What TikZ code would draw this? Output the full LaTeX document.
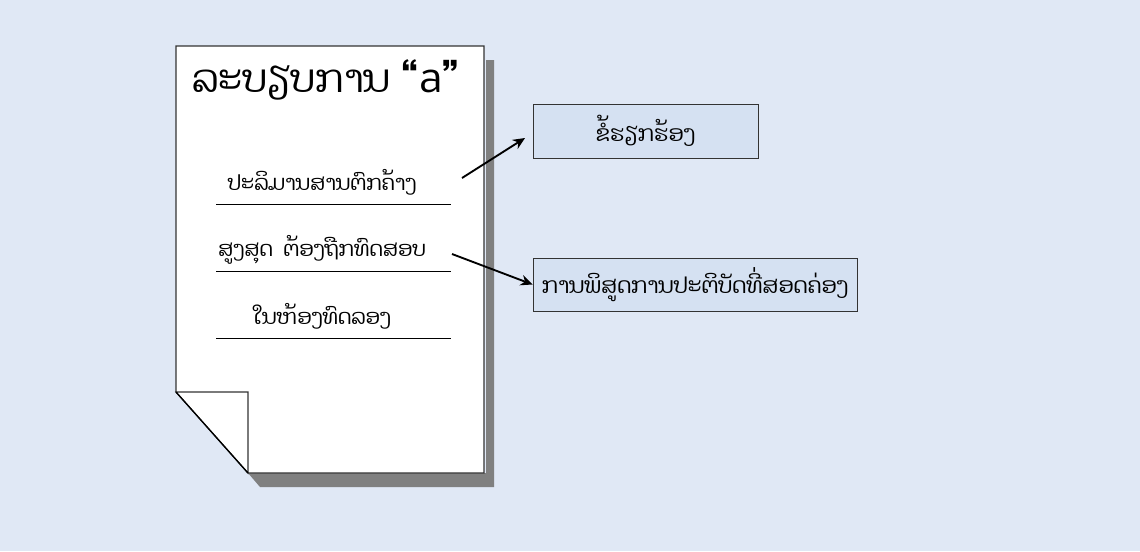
\documentclass[tikz,border=0pt]{standalone}
\usepackage{fontspec}
\newfontfamily\laofont[Script=Lao]{Dhyana}
\usetikzlibrary{arrows.meta}
\definecolor{bgc}{HTML}{E0E8F5}
\definecolor{boxc}{HTML}{D5E1F2}
\definecolor{shad}{HTML}{808080}
\definecolor{edge}{HTML}{333333}
\tikzset{
  labelbox/.style={draw=edge, fill=boxc, line width=0.6pt, inner sep=0pt, font=\laofont\fontsize{16.5}{19}\selectfont},
  pagetext/.style={font=\laofont\fontsize{15.7}{18}\selectfont, inner sep=0pt},
  rule/.style={draw=black, line width=0.5pt},
  arr/.style={-{Stealth[length=9pt,width=8pt]}, line width=1.4pt}
}
\begin{document}
\begin{tikzpicture}[x=0.75pt,y=-0.75pt]
\fill[bgc] (0,0) rectangle (1140,551);
\useasboundingbox (0,0) rectangle (1140,551);
% shadow
\fill[shad] (486,60) -- (494,60) -- (494,487) -- (260,487) -- (248,473) -- (486,473) -- cycle;
% page
\draw[edge, fill=white, line width=0.8pt] (176,46) -- (484,46) -- (484,473) -- (248,473) -- (176,392) -- cycle;
% fold
\draw[edge, fill=white, line width=0.8pt] (176,392) -- (248,392) -- (248,473) -- cycle;
\draw[black, line width=1pt] (176,392) -- (248,473);
% title
\node[anchor=west, inner sep=0pt, font=\laofont\fontsize{29}{33}\selectfont] (title) at (192,80) {ລະບຽບການ “a”};
% lines
\node[pagetext] (t1) at (322,182) {ປະລິມານສານຕົກຄ້າງ};
\node[pagetext] (t2) at (322,250) {ສູງສຸດ\ \ ຕ້ອງຖືກທົດສອບ};
\node[pagetext] (t3) at (322,316) {ໃນຫ້ອງທົດລອງ};
\draw[rule] (216,204) -- (451,204);
\draw[rule] (216,271) -- (451,271);
\draw[rule] (216,338) -- (451,338);
% boxes
\node[labelbox, minimum width=225*0.75pt, minimum height=54*0.75pt] (b1) at (645.5,131) {ຂໍ້ຮຽກຮ້ອງ};
\node[labelbox, minimum width=324*0.75pt, minimum height=53*0.75pt] (b2) at (695,284.5) {ການພິສູດການປະຕິບັດທີ່ສອດຄ່ອງ};
% arrows
\coordinate (a1s) at (462,178);
\coordinate (a2s) at (452,254);
\draw[arr] (a1s) -- (525,138);
\draw[arr] (a2s) -- (b2.west);
\end{tikzpicture}
\end{document}
